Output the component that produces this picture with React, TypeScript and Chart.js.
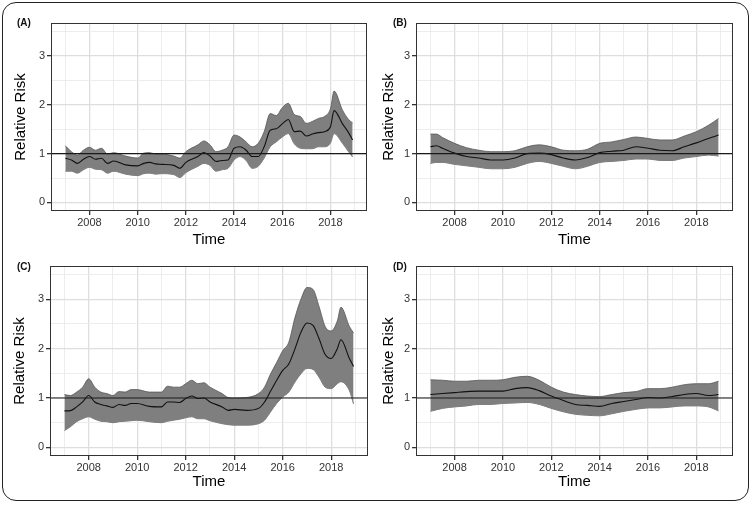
import React, { useEffect, useRef } from "react";
import { Chart, registerables } from "chart.js";
Chart.register(...registerables);

// ---------- DATA ----------
const yearsA = [2007, 2007.25, 2007.5, 2007.75, 2008, 2008.25, 2008.5, 2008.75, 2009, 2009.5, 2010, 2010.25, 2010.5, 2010.75, 2011, 2011.5, 2011.75, 2012, 2012.5, 2012.75, 2013, 2013.25, 2013.5, 2013.75, 2014, 2014.25, 2014.5, 2014.75, 2015, 2015.25, 2015.5, 2015.75, 2016, 2016.25, 2016.5, 2016.75, 2017, 2017.25, 2017.5, 2017.75, 2018, 2018.15, 2018.5, 2018.75, 2018.92];
const meanA = [0.905, 0.87, 0.8, 0.885, 0.94, 0.885, 0.905, 0.8, 0.85, 0.77, 0.75, 0.8, 0.82, 0.79, 0.78, 0.76, 0.7, 0.82, 0.94, 1.02, 0.95, 0.84, 0.86, 0.87, 1.11, 1.14, 1.07, 0.94, 0.94, 1.14, 1.48, 1.51, 1.61, 1.7, 1.45, 1.46, 1.36, 1.4, 1.43, 1.45, 1.55, 1.88, 1.61, 1.43, 1.28];
const upperA = [1.16, 1.04, 0.97, 1.07, 1.13, 1.07, 1.11, 0.99, 1.02, 0.95, 0.91, 1.01, 1.02, 0.99, 0.99, 0.95, 0.91, 1.04, 1.18, 1.26, 1.18, 1.04, 1.07, 1.14, 1.38, 1.34, 1.24, 1.14, 1.21, 1.45, 1.82, 1.78, 1.94, 2.03, 1.8, 1.76, 1.62, 1.66, 1.72, 1.76, 1.92, 2.28, 1.89, 1.7, 1.63];
const lowerA = [0.64, 0.64, 0.6, 0.67, 0.72, 0.68, 0.67, 0.6, 0.64, 0.58, 0.55, 0.59, 0.6, 0.58, 0.59, 0.57, 0.51, 0.61, 0.74, 0.8, 0.76, 0.64, 0.67, 0.7, 0.87, 0.94, 0.86, 0.7, 0.74, 0.91, 1.14, 1.24, 1.34, 1.41, 1.2, 1.11, 1.1, 1.1, 1.14, 1.14, 1.22, 1.41, 1.21, 1.04, 0.93];

const yearsB = [2007, 2007.25, 2007.5, 2008, 2008.5, 2009, 2009.5, 2010, 2010.5, 2011, 2011.5, 2012, 2012.5, 2013, 2013.5, 2014, 2014.5, 2015, 2015.5, 2016, 2016.5, 2017, 2017.5, 2018, 2018.5, 2018.92];
const meanB = [1.14, 1.16, 1.11, 1.01, 0.94, 0.91, 0.87, 0.87, 0.91, 1.0, 1.01, 0.98, 0.91, 0.87, 0.92, 1.02, 1.05, 1.07, 1.14, 1.11, 1.07, 1.06, 1.14, 1.22, 1.31, 1.38];
const upperB = [1.4, 1.4, 1.33, 1.21, 1.12, 1.07, 1.04, 1.04, 1.06, 1.14, 1.18, 1.14, 1.07, 1.06, 1.09, 1.21, 1.24, 1.29, 1.34, 1.31, 1.28, 1.28, 1.36, 1.45, 1.58, 1.72];
const lowerB = [0.8, 0.82, 0.82, 0.78, 0.75, 0.72, 0.69, 0.69, 0.72, 0.8, 0.84, 0.8, 0.74, 0.69, 0.74, 0.82, 0.84, 0.86, 0.89, 0.89, 0.86, 0.86, 0.91, 0.94, 0.97, 0.95];

const yearsC = [2007, 2007.25, 2007.5, 2007.75, 2008, 2008.25, 2008.5, 2008.75, 2009, 2009.25, 2009.5, 2009.75, 2010, 2010.5, 2011, 2011.25, 2011.5, 2011.75, 2012, 2012.25, 2012.5, 2012.75, 2013, 2013.5, 2013.75, 2014, 2014.5, 2015, 2015.25, 2015.5, 2015.75, 2016, 2016.25, 2016.5, 2016.75, 2017, 2017.25, 2017.5, 2017.75, 2018, 2018.25, 2018.4, 2018.75, 2018.92];
const meanC = [0.74, 0.745, 0.82, 0.92, 1.05, 0.92, 0.87, 0.84, 0.81, 0.87, 0.85, 0.89, 0.89, 0.83, 0.82, 0.92, 0.92, 0.91, 0.99, 1.04, 0.99, 1.0, 0.92, 0.82, 0.75, 0.77, 0.75, 0.79, 0.92, 1.14, 1.36, 1.56, 1.69, 1.99, 2.33, 2.52, 2.47, 2.2, 1.88, 1.8, 2.0, 2.18, 1.8, 1.64];
const upperC = [1.07, 1.05, 1.12, 1.22, 1.39, 1.22, 1.12, 1.09, 1.05, 1.13, 1.12, 1.17, 1.17, 1.12, 1.12, 1.24, 1.22, 1.22, 1.29, 1.36, 1.29, 1.31, 1.22, 1.09, 1.01, 1.0, 1.01, 1.09, 1.22, 1.49, 1.72, 1.96, 2.13, 2.62, 3.0, 3.24, 3.2, 2.85, 2.45, 2.36, 2.56, 2.84, 2.45, 2.32];
const lowerC = [0.34, 0.42, 0.52, 0.58, 0.62, 0.57, 0.53, 0.52, 0.5, 0.52, 0.53, 0.54, 0.55, 0.52, 0.5, 0.53, 0.55, 0.57, 0.6, 0.62, 0.58, 0.58, 0.54, 0.48, 0.46, 0.45, 0.45, 0.48, 0.55, 0.72, 0.89, 1.02, 1.12, 1.32, 1.49, 1.6, 1.58, 1.42, 1.22, 1.19, 1.29, 1.33, 1.15, 0.88];

const yearsD = [2007, 2007.5, 2008, 2008.5, 2009, 2009.5, 2010, 2010.5, 2011, 2011.5, 2012, 2012.5, 2013, 2013.5, 2014, 2014.5, 2015, 2015.5, 2016, 2016.5, 2017, 2017.5, 2018, 2018.5, 2018.92];
const meanD = [1.07, 1.09, 1.11, 1.13, 1.14, 1.14, 1.14, 1.19, 1.21, 1.15, 1.04, 0.95, 0.87, 0.85, 0.83, 0.89, 0.93, 0.97, 1.01, 1.0, 1.03, 1.07, 1.09, 1.05, 1.07];
const upperD = [1.37, 1.36, 1.34, 1.34, 1.36, 1.36, 1.37, 1.42, 1.44, 1.36, 1.22, 1.12, 1.07, 1.04, 1.03, 1.07, 1.11, 1.13, 1.19, 1.19, 1.22, 1.27, 1.29, 1.29, 1.34];
const lowerD = [0.73, 0.79, 0.82, 0.84, 0.87, 0.87, 0.89, 0.9, 0.91, 0.87, 0.79, 0.72, 0.67, 0.65, 0.64, 0.68, 0.73, 0.77, 0.8, 0.8, 0.82, 0.84, 0.84, 0.82, 0.74];

const xMajorTicks = [2008, 2010, 2012, 2014, 2016, 2018];
const xGridTicks = [2007, 2008, 2009, 2010, 2011, 2012, 2013, 2014, 2015, 2016, 2017, 2018, 2019];
const yMajorTicks = [0, 1, 2, 3];
const yGridTicks = [0, 0.5, 1, 1.5, 2, 2.5, 3, 3.5];
const yLimits = [0, 3.5];
const referenceRisk = 1;

const xTitle = "Time";
const yTitle = "Relative Risk";

// ---------- LAYOUT ----------
const FONT = "'Liberation Sans', Arial, Helvetica, sans-serif";

type Rect = { plotLeft: number; plotTop: number; plotRight: number; plotBottom: number; axisH: number; titlePad: number };

const panels = [
  { label: "(A)", years: yearsA, mean: meanA, upper: upperA, lower: lowerA, rect: { plotLeft: 51, plotTop: 23, plotRight: 367, plotBottom: 211, axisH: 41, titlePad: 12 }, lx: 17, ly: 17 },
  { label: "(B)", years: yearsB, mean: meanB, upper: upperB, lower: lowerB, rect: { plotLeft: 416, plotTop: 23, plotRight: 733, plotBottom: 211, axisH: 41, titlePad: 15 }, lx: 393, ly: 17 },
  { label: "(C)", years: yearsC, mean: meanC, upper: upperC, lower: lowerC, rect: { plotLeft: 50, plotTop: 266, plotRight: 368, plotBottom: 456, axisH: 38, titlePad: 12 }, lx: 17, ly: 261 },
  { label: "(D)", years: yearsD, mean: meanD, upper: upperD, lower: lowerD, rect: { plotLeft: 416, plotTop: 266, plotRight: 733, plotBottom: 456, axisH: 38, titlePad: 15 }, lx: 393, ly: 261 },
];

const Y_AXIS_W = 51;
const TOP_PAD = 23;
const RIGHT_PAD = 9;

function Panel({ years, mean, upper, lower, rect }: { years: number[]; mean: number[]; upper: number[]; lower: number[]; rect: Rect }) {
  const ref = useRef<HTMLCanvasElement | null>(null);
  const left = rect.plotLeft - Y_AXIS_W;
  const top = rect.plotTop - TOP_PAD;
  const width = rect.plotRight - left + RIGHT_PAD;
  const height = rect.plotBottom - top + rect.axisH;

  useEffect(() => {
    if (!ref.current) return;
    const first = years[0];
    const last = years[years.length - 1];
    const span = last - first;
    const xMin = first - 0.05 * span;
    const xMax = last + 0.05 * span;
    const ySpan = yLimits[1] - yLimits[0];
    const yMin = yLimits[0] - 0.05 * ySpan;
    const yMax = yLimits[1] + 0.05 * ySpan;

    const toPts = (vals: number[]) => vals.map((v, i) => ({ x: years[i], y: v }));

    const refLine = {
      id: "refLine",
      afterDatasetsDraw(chart: any) {
        const { ctx, chartArea, scales } = chart;
        const y = scales.y.getPixelForValue(referenceRisk);
        ctx.save();
        ctx.strokeStyle = "#1a1a1a";
        ctx.lineWidth = 1.2;
        ctx.beginPath();
        ctx.moveTo(chartArea.left, y);
        ctx.lineTo(chartArea.right, y);
        ctx.stroke();
        ctx.restore();
      },
    };
    const frame = {
      id: "frame",
      afterDraw(chart: any) {
        const { ctx, chartArea } = chart;
        ctx.save();
        ctx.strokeStyle = "#333333";
        ctx.lineWidth = 1;
        ctx.strokeRect(chartArea.left + 0.5, chartArea.top + 0.5, chartArea.right - chartArea.left - 1, chartArea.bottom - chartArea.top - 1);
        ctx.restore();
      },
    };

    const isMajorX = (c: any) => xMajorTicks.includes(c.tick?.value);
    const isMajorY = (c: any) => yMajorTicks.includes(c.tick?.value);

    const common = { pointRadius: 0, cubicInterpolationMode: "monotone" as const };
    const chart = new Chart(ref.current, {
      type: "line",
      data: {
        datasets: [
          { data: toPts(mean), borderColor: "#111111", borderWidth: 1.1, fill: false, ...common },
          { data: toPts(upper), borderColor: "#555555", borderWidth: 0.8, backgroundColor: "#7f7f7f", fill: "+1", ...common },
          { data: toPts(lower), borderColor: "#555555", borderWidth: 0.8, fill: false, ...common },
        ],
      },
      options: {
        animation: false,
        responsive: false,
        maintainAspectRatio: false,
        layout: { padding: { left: 0, top: TOP_PAD, right: RIGHT_PAD, bottom: 0 } },
        plugins: { legend: { display: false }, tooltip: { enabled: false } },
        scales: {
          x: {
            type: "linear",
            min: xMin,
            max: xMax,
            afterBuildTicks: (s: any) => {
              s.ticks = xGridTicks.map((v) => ({ value: v }));
            },
            afterFit: (s: any) => {
              s.height = rect.axisH;
            },
            ticks: {
              autoSkip: false,
              maxRotation: 0,
              padding: 1,
              color: "#333333",
              font: { size: 11, family: FONT },
              callback: (v: any) => (xMajorTicks.includes(Number(v)) ? String(v) : ""),
            },
            grid: {
              color: (c: any) => (isMajorX(c) ? "#dedede" : "#ebebeb"),
              lineWidth: (c: any) => (isMajorX(c) ? 1.3 : 0.9),
              tickLength: 4,
              tickColor: (c: any) => (isMajorX(c) ? "#333333" : "rgba(0,0,0,0)"),
            },
            border: { display: false },
            title: { display: true, text: xTitle, color: "#000", font: { size: 15, family: FONT }, padding: { top: 0, bottom: 3 } },
          },
          y: {
            type: "linear",
            min: yMin,
            max: yMax,
            afterBuildTicks: (s: any) => {
              s.ticks = yGridTicks.map((v) => ({ value: v }));
            },
            afterFit: (s: any) => {
              s.width = Y_AXIS_W;
            },
            ticks: {
              autoSkip: false,
              padding: 2,
              color: "#333333",
              font: { size: 11, family: FONT },
              callback: (v: any) => (yMajorTicks.includes(Number(v)) ? String(v) : ""),
            },
            grid: {
              color: (c: any) => (isMajorY(c) ? "#dedede" : "#ebebeb"),
              lineWidth: (c: any) => (isMajorY(c) ? 1.3 : 0.9),
              tickLength: 4,
              tickColor: (c: any) => (isMajorY(c) ? "#333333" : "rgba(0,0,0,0)"),
            },
            border: { display: false },
            title: { display: true, text: yTitle, color: "#000", font: { size: 15, family: FONT }, padding: { top: rect.titlePad, bottom: 0 } },
          },
        },
      },
      plugins: [refLine, frame],
    });
    return () => chart.destroy();
  }, []);

  return (
    <canvas
      ref={ref}
      width={width}
      height={height}
      style={{ position: "absolute", left, top, width, height }}
    />
  );
}

export default function App() {
  return (
    <div style={{ position: "fixed", left: 0, top: 0, width: 752, height: 505, background: "#fff", overflow: "hidden", fontFamily: FONT }}>
      <div
        style={{
          position: "absolute",
          left: 2,
          top: 2,
          width: 747,
          height: 499,
          boxSizing: "border-box",
          border: "1.5px solid #222",
          borderRadius: 14,
        }}
      />
      {panels.map((p) => (
        <React.Fragment key={p.label}>
          <Panel years={p.years} mean={p.mean} upper={p.upper} lower={p.lower} rect={p.rect} />
          <div style={{ position: "absolute", left: p.lx, top: p.ly, fontSize: 10, fontWeight: "bold", lineHeight: "12px", color: "#111" }}>{p.label}</div>
        </React.Fragment>
      ))}
    </div>
  );
}
